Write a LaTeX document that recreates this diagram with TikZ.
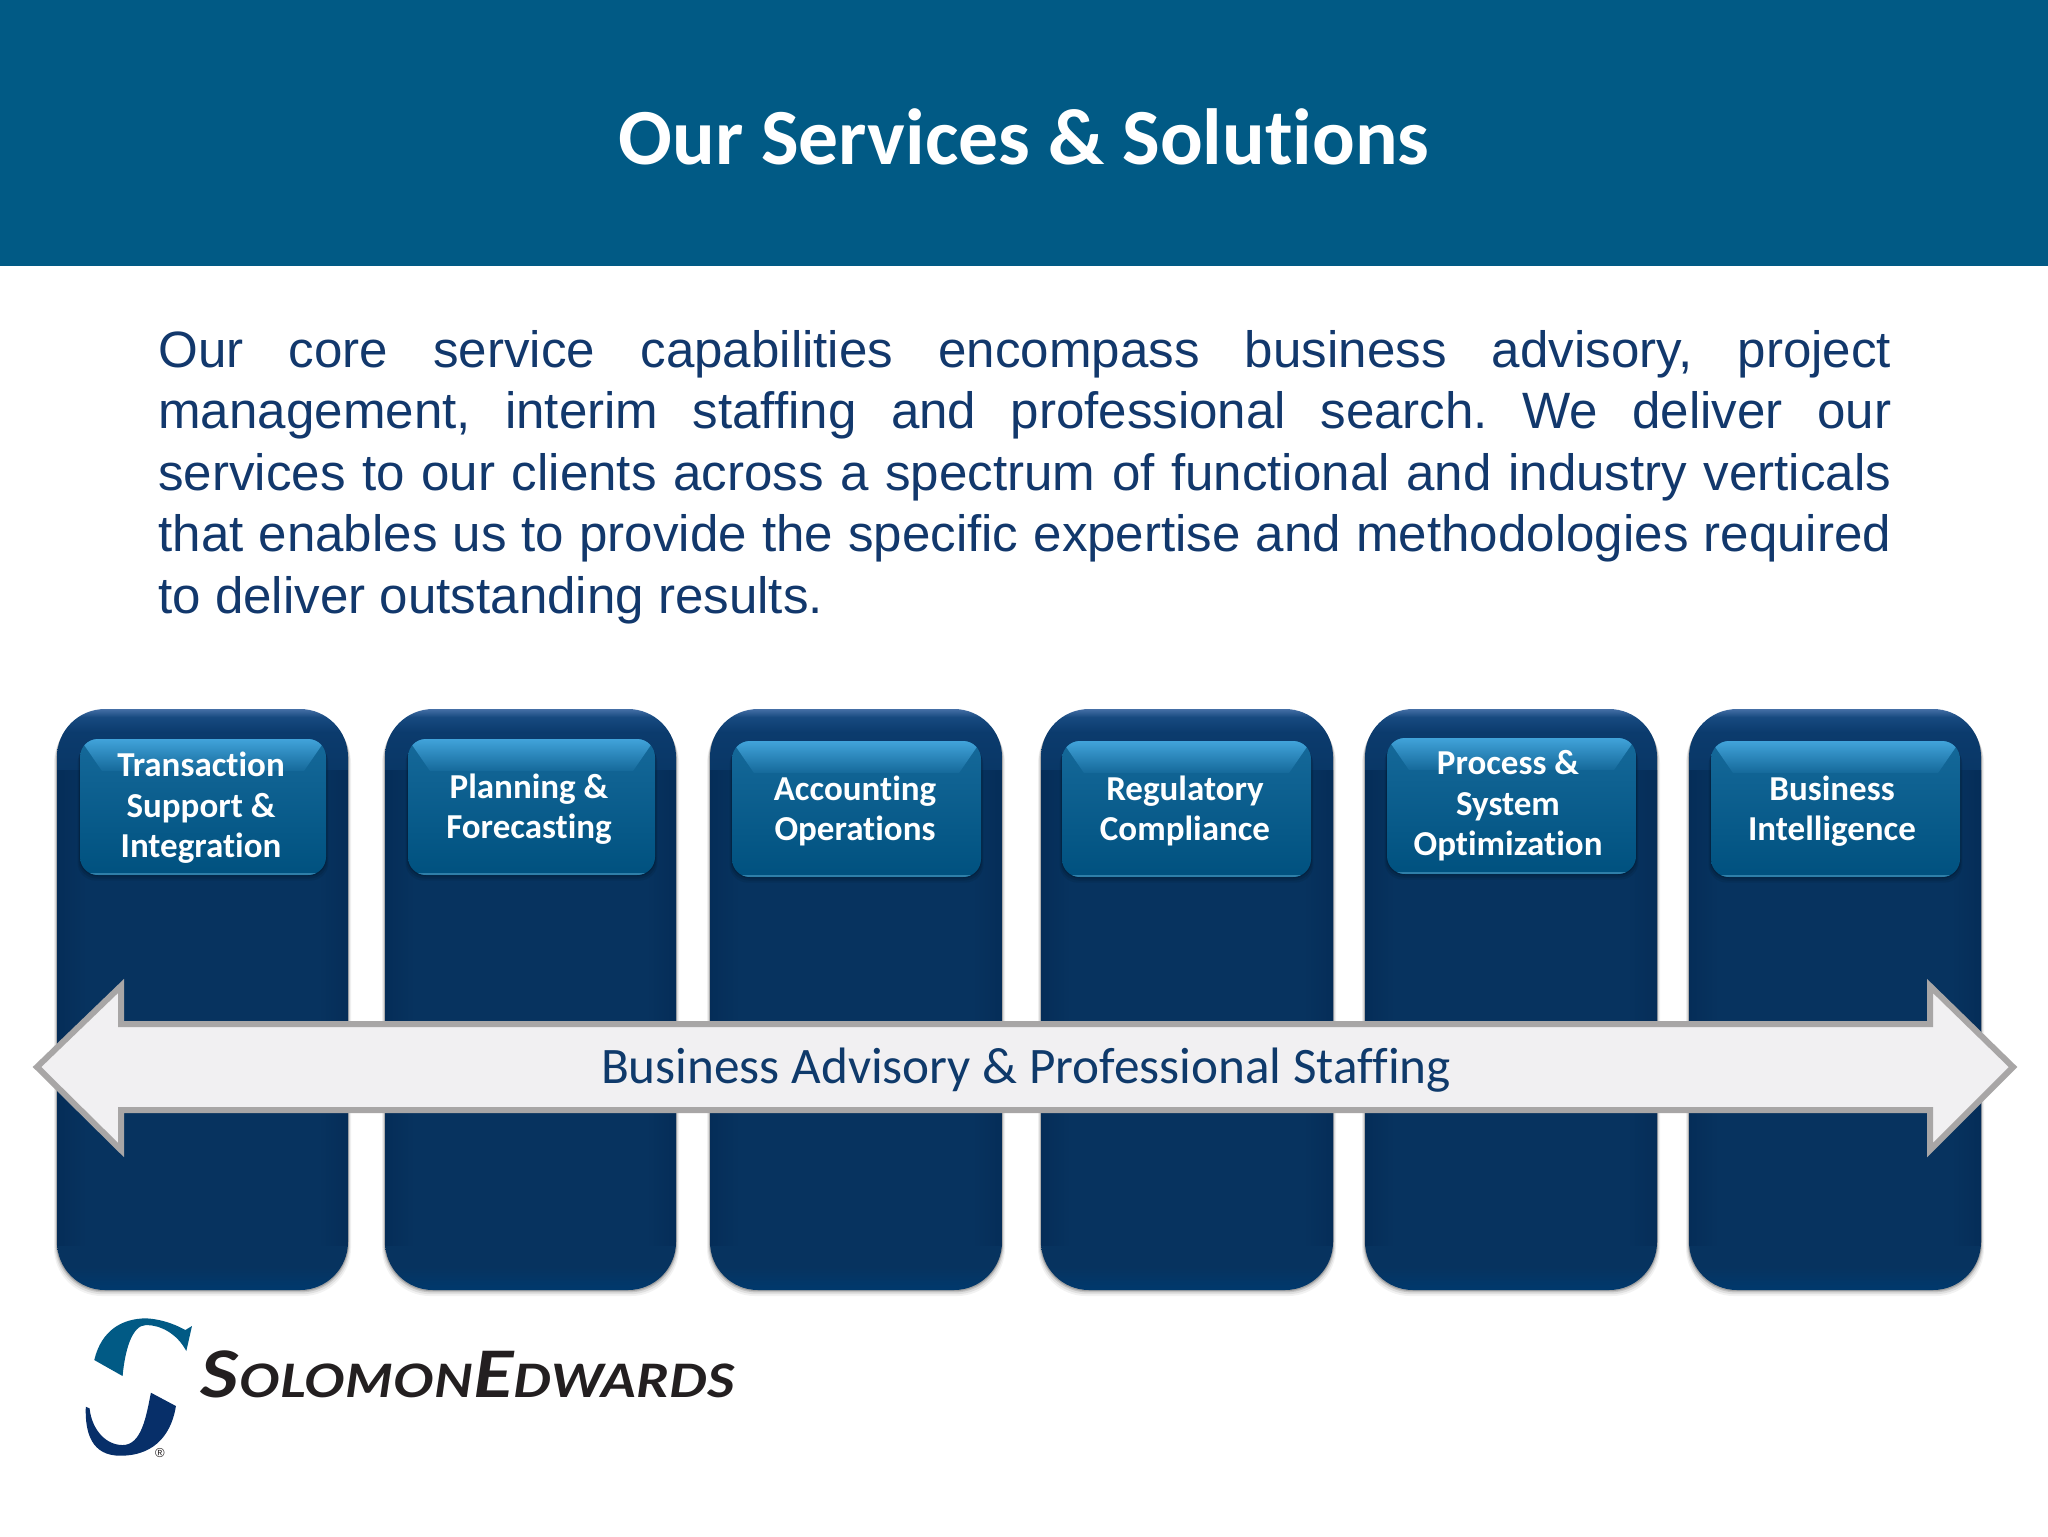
\documentclass[tikz,border=0pt]{standalone}
\usepackage{fontspec}
\usetikzlibrary{calc}
\setmainfont{Liberation Sans}
\newfontfamily\carl[Ligatures=NoCommon]{Carlito}
\newfontfamily\logofont{Lato}
\definecolor{headblue}{HTML}{015A85}
\definecolor{bodyblue}{HTML}{12386C}
\definecolor{colbase}{HTML}{07335F}
\definecolor{coltop}{HTML}{456FA6}
\definecolor{coltopb}{HTML}{174A80}
\definecolor{coltopc}{HTML}{0B3B6D}
\definecolor{colbot}{HTML}{00396D}
\definecolor{colside}{HTML}{052D58}
\definecolor{boxtop}{HTML}{41A3DA}
\definecolor{boxa}{HTML}{15699A}
\definecolor{boxb}{HTML}{00517F}
\definecolor{boxedge}{HTML}{2F7FA9}
\definecolor{arrowline}{HTML}{A8A6A6}
\definecolor{arrowfill}{HTML}{F1F0F2}
\definecolor{arrowtext}{HTML}{0F3A6B}
\definecolor{logotop}{HTML}{015A85}
\definecolor{logobot}{HTML}{072F69}
\definecolor{logotext}{HTML}{231F20}
\pgfdeclareverticalshading{colshade}{100bp}{color(0bp)=(colbot);color(25bp)=(colbot);color(27bp)=(colbase);color(66bp)=(colbase);color(73bp)=(coltopc);color(74.3bp)=(coltopb);color(75bp)=(coltop);color(100bp)=(coltop)}
\pgfdeclareverticalshading{bevelshade}{100bp}{color(0bp)=(boxa);color(25bp)=(boxa);color(75bp)=(boxtop);color(100bp)=(boxtop)}
\pgfdeclareverticalshading{boxshade}{100bp}{color(0bp)=(boxb);color(25bp)=(boxb);color(75bp)=(boxa);color(100bp)=(boxa)}
\tikzset{
  x=0.5pt,y=-0.5pt,
  colshape/.style={rounded corners=24pt,shading=colshade,draw=none},
  boxshape/.style={rounded corners=9pt,shading=boxshade,draw=none},
  lbl/.style={text=white,align=center,inner sep=0pt,font=\carl\bfseries\fontsize{17.5}{20.3}\selectfont},
}
\newcommand{\svccol}[5]{% left, right, box left, box right, box top
  \foreach \s/\o in {10/0.05,7/0.08,4/0.12,2/0.16}{
    \fill[black,opacity=\o,rounded corners=24pt] ($(#1-\s*0.3,709+\s*0.6)$) rectangle ($(#2+\s*0.3,1290+\s*0.6)$);
  }
  \path[colshape] (#1,709) rectangle (#2,1290);
  \begin{scope}
    \clip[rounded corners=24pt] (#1,709) rectangle (#2,1290);
    \fill[left color=colside,right color=colbase] (#1,770) rectangle (#1+30,1245);
    \fill[left color=colbase,right color=colside] (#2-30,770) rectangle (#2,1245);
  \end{scope}
  \foreach \s/\o in {8/0.08,5/0.1,2/0.15}{
    \fill[black,opacity=\o,rounded corners=9pt] ($(#3-\s*0.3,#5+\s*0.7)$) rectangle ($(#4+\s*0.3,#5+136+\s*0.7)$);
  }
  \path[boxshape] (#3,#5) rectangle (#4,#5+136);
  \begin{scope}
    \clip[rounded corners=9pt] (#3,#5) rectangle (#4,#5+136);
    \path[shading=bevelshade] (#3,#5) -- (#4,#5) -- (#4-22,#5+32) -- (#3+22,#5+32) -- cycle;
    \fill[boxedge] (#3,#5+134) rectangle (#4,#5+136);
  \end{scope}
}
\frenchspacing
\begin{document}
\begin{tikzpicture}
\useasboundingbox (0,0) rectangle (2048,1536);
\fill[white] (0,0) rectangle (2048,1536);
\fill[headblue] (0,0) rectangle (2048,266);
\node[text=white,inner sep=0pt,font=\carl\bfseries\fontsize{39.8}{48}\selectfont] (title) at (1024,137) {Our Services \& Solutions};
\node[anchor=north west,inner sep=0pt,text=bodyblue,align=left,font=\fontsize{25.55}{30.7}\selectfont] (intro) at (158,330) {%
\makebox[866.5pt][s]{Our core service capabilities encompass business advisory, project}\\
\makebox[866.5pt][s]{management, interim staffing and professional search. We deliver our}\\
\makebox[866.5pt][s]{services to our clients across a spectrum of functional and industry verticals}\\
\makebox[866.5pt][s]{that enables us to provide the specific expertise and methodologies required}\\
to deliver outstanding results.};
\svccol{57}{348}{80}{326}{739}
\svccol{385}{676}{408}{655}{739}
\svccol{710}{1002}{732}{981}{741}
\svccol{1041}{1333}{1062}{1311}{741}
\svccol{1365}{1657}{1387}{1636}{738}
\svccol{1689}{1981}{1711}{1960}{741}
\node[lbl] (l1) at (201,808) {Transaction\\Support \&\\Integration};
\node[lbl] (l2) at (529,809) {Planning \&\\Forecasting};
\node[lbl] (l3) at (855,811) {Accounting\\Operations};
\node[lbl] (l4) at (1185,811) {Regulatory\\Compliance};
\node[lbl] (l5) at (1508,806) {Process \&\\System\\Optimization};
\node[lbl] (l6) at (1832,811) {Business\\Intelligence};
\draw[arrowline,line width=3pt,fill=arrowfill,miter limit=10] (37,1067) -- (121,986) -- (121,1024) -- (1930,1024) -- (1930,986) -- (2013,1067) -- (1930,1150) -- (1930,1110) -- (121,1110) -- (121,1150) -- cycle;
\node[text=arrowtext,inner sep=0pt,font=\carl\fontsize{25.6}{30}\selectfont] (band) at (1026,1070) {Business Advisory \& Professional Staffing};
\begin{scope}[shift={(40,1270)},x=0.236pt,y=-0.1667pt]
\fill[logotop] (115,270) .. controls (130,180) and (175,145) .. (225,145) .. controls (265,148) and (295,170) .. (308,180) -- (322,168) -- (310,243) .. controls (290,190) and (255,165) .. (225,165) .. controls (195,165) and (180,240) .. (175,318) -- cycle;
\fill[logobot] (235,368) -- (288,408) .. controls (280,480) and (250,557) .. (170,557) .. controls (110,557) and (95,490) .. (97,410) -- (105,415) .. controls (110,480) and (140,525) .. (175,525) .. controls (215,525) and (225,440) .. (235,368) -- cycle;
\end{scope}
\node[text=logotext,inner sep=0pt,font=\fontsize{6.5}{7}\selectfont] (reg) at (160,1453) {®};
\node[anchor=base west,inner sep=0pt,text=logotext,font=\logofont\bfseries\itshape] (logoname) at (200,1397) {\scalebox{1.18}[1]{\fontsize{32}{36}\selectfont S\fontsize{23}{36}\selectfont OLOMON\fontsize{32}{36}\selectfont E\fontsize{23}{36}\selectfont DWARDS}};
\end{tikzpicture}
\end{document}
